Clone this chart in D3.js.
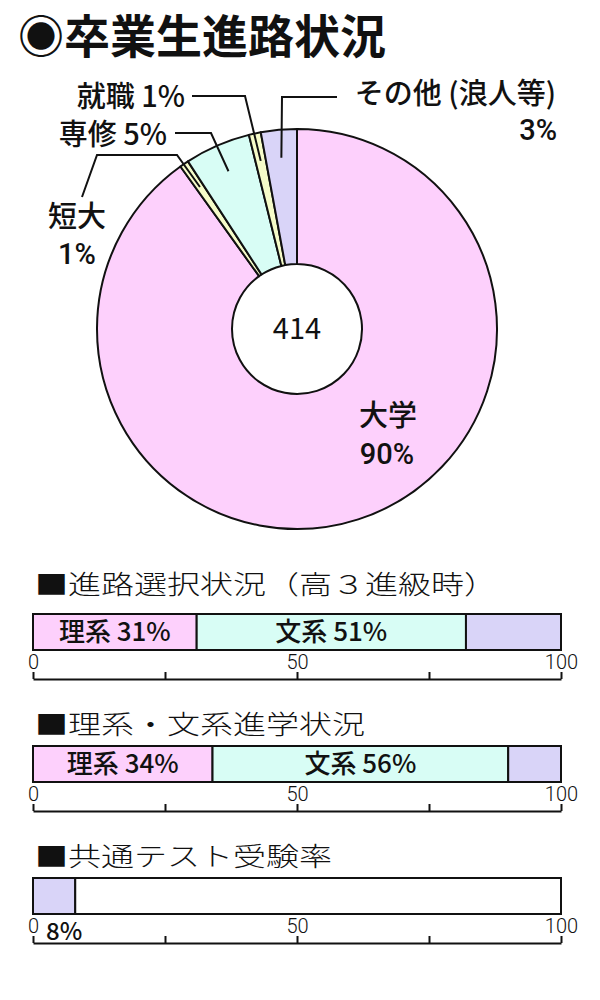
<!DOCTYPE html>
<html>
<head>
<meta charset="utf-8">
<script src="https://d3js.org/d3.v7.min.js"></script>
<style>
  body { margin: 0; background: #fff; }
  text { font-family: "Noto Sans CJK JP", "Noto Sans", sans-serif; fill: #111; }
  .tick text { font-family: Roboto, "Liberation Sans", sans-serif; font-weight: 300; }
  .num { font-family: Roboto, "Liberation Sans", sans-serif; }
</style>
</head>
<body>
<svg id="chart" width="600" height="1000"></svg>
<script>
  // pie: graduates by destination (total 414)
  const pieNames = ["大学", "短大", "専修", "就職", "その他"]
  const pieCounts = [373, 3, 22, 4, 12]
  const pieColors = ["#fdd0fc", "#f6fcc9", "#d8fdf5", "#f6fcc9", "#d9d4f8"]

  // bars
  const barTitles = ["■進路選択状況（高３進級時）", "■理系・文系進学状況", "■共通テスト受験率"]
  const courseChoice = [31, 51, 18]
  const courseResult = [34, 56, 10]
  const examRate = [8, 92]
  const choiceLabels = ["理系 31%", "文系 51%", ""]
  const resultLabels = ["理系 34%", "文系 56%", ""]
  const tickValues = [0, 25, 50, 75, 100]
  const tickLabels = ["0", "", "50", "", "100"]

  const svg = d3.select("#chart")

  // title
  svg.append("text")
    .attr("x", 18).attr("y", 53)
    .attr("font-size", 46).attr("font-weight", "bold")
    .text("◉卒業生進路状況")

  // ---- donut ----
  const cx = 297, cy = 329
  const arc = d3.arc().innerRadius(65).outerRadius(200)
  const slices = d3.pie().sort(null).value(d => d)(pieCounts)
  const pg = svg.append("g").attr("transform", `translate(${cx},${cy})`)
  pg.selectAll("path")
    .data(slices)
    .join("path")
    .attr("d", arc)
    .attr("fill", (d, i) => pieColors[i])
    .attr("stroke", "#111")
    .attr("stroke-width", 2)
    .attr("stroke-linejoin", "round")

  pg.append("text").attr("text-anchor", "middle").attr("y", 10)
    .attr("font-size", 29)
    .text(d3.sum(pieCounts))

  // leader lines, elbow points for the small slices
  const leaders = [
    { i: 1, pts: [[82, 197], [97, 155], [177, 155]] },
    { i: 2, pts: [[175, 133], [211, 133]] },
    { i: 3, pts: [[192, 96], [245, 96]] },
    { i: 4, pts: [[337, 97], [282, 97]] }
  ]
  leaders.forEach(l => {
    const s = slices[l.i]
    const a = (s.startAngle + s.endAngle) / 2
    const end = [cx + 172 * Math.sin(a), cy - 172 * Math.cos(a)]
    svg.append("path")
      .attr("d", d3.line()(l.pts.concat([end])))
      .attr("fill", "none")
      .attr("stroke", "#111")
      .attr("stroke-width", 2)
  })

  // labels; the percent on its own line is set in a latin face
  const pct = i => Math.round(pieCounts[i] / d3.sum(pieCounts) * 100) + "%"
  const pieLabels = [
    { t: pieNames[0], x: 388, y: 426, a: "middle" },
    { t: pct(0), x: 387, y: 464, a: "middle", num: true },
    { t: pieNames[1], x: 77, y: 227, a: "middle" },
    { t: pct(1), x: 77, y: 264, a: "middle", num: true },
    { t: pieNames[2] + " " + pct(2), x: 167, y: 145, a: "end" },
    { t: pieNames[3] + " " + pct(3), x: 185, y: 107, a: "end" },
    { t: pieNames[4] + " (浪人等)", x: 556, y: 104, a: "end" },
    { t: pct(4), x: 557, y: 140, a: "end", num: true }
  ]
  svg.selectAll("text.pl")
    .data(pieLabels)
    .join("text")
    .attr("class", d => d.num ? "pl num" : "pl")
    .attr("x", d => d.x).attr("y", d => d.y)
    .attr("text-anchor", d => d.a)
    .attr("font-size", 29).attr("font-weight", 500)
    .text(d => d.t)

  // ---- stacked bars ----
  const x = d3.scaleLinear().domain([0, 100]).range([33, 561])
  const barColors = [["#fdd0fc", "#d8fdf5", "#d9d4f8"], ["#fdd0fc", "#d8fdf5", "#d9d4f8"], ["#d9d4f8", "#ffffff"]]
  const bars = [
    { title: barTitles[0], vals: courseChoice, labels: choiceLabels, titleY: 594, top: 614 },
    { title: barTitles[1], vals: courseResult, labels: resultLabels, titleY: 734, top: 746 },
    { title: barTitles[2], vals: examRate, labels: ["", ""], titleY: 866, top: 878 }
  ]
  const barH = 36

  bars.forEach((b, bi) => {
    svg.append("g")
      .attr("transform", `translate(35,${b.titleY}) scale(1.27,1)`)
      .append("text")
      .attr("font-size", 26).attr("font-weight", 300)
      .text(b.title)

    const ends = d3.cumsum(b.vals)
    const segs = b.vals.map((v, i) => ({ v, x0: ends[i] - v, x1: ends[i], label: b.labels[i] }))
    const g = svg.append("g")
    g.selectAll("rect")
      .data(segs)
      .join("rect")
      .attr("x", d => x(d.x0))
      .attr("y", b.top)
      .attr("width", d => x(d.x1) - x(d.x0))
      .attr("height", barH)
      .attr("fill", (d, i) => barColors[bi][i])
      .attr("stroke", "#111")
      .attr("stroke-width", 2)
    g.selectAll("text")
      .data(segs.filter(d => d.label))
      .join("text")
      .attr("x", d => (x(d.x0) + x(d.x1)) / 2)
      .attr("y", b.top + barH / 2 + 9)
      .attr("text-anchor", "middle")
      .attr("font-size", 26).attr("font-weight", 500)
      .text(d => d.label)

    const ax = svg.append("g")
      .attr("transform", `translate(0,${b.top + 65})`)
      .call(d3.axisTop(x).tickValues(tickValues).tickSize(7).tickSizeOuter(0).tickPadding(3)
        .tickFormat((d, i) => tickLabels[i]))
    ax.selectAll("path, line").attr("stroke", "#111").attr("stroke-width", 2)
    ax.selectAll("text").attr("font-size", 20).attr("fill", "#111")
  })

  // exam rate value under the bar
  svg.append("text")
    .attr("x", x(0) + 13).attr("y", 940)
    .attr("font-size", 24).attr("font-weight", 500)
    .text(examRate[0] + "%")
</script>
</body>
</html>
